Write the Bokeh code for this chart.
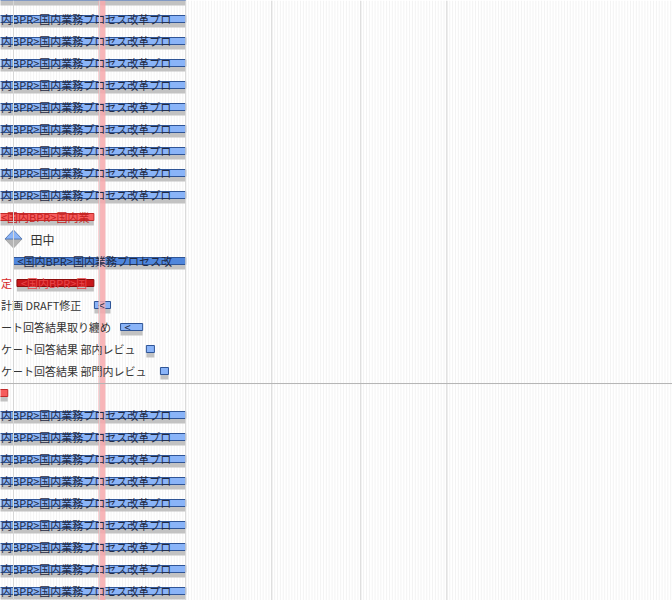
from bokeh.plotting import figure
from bokeh.models import Range1d, ColumnDataSource, Span
from bokeh.core.properties import value
from bokeh.embed import file_html
from bokeh.resources import INLINE

# ---------------- data (x in days from chart origin, y in row index) ----------------
BLUE_CAPTION = "内BPR>国内業務プロセス改革プロ"

blue_rows = [0, 1, 2, 3, 4, 5, 6, 7, 8, 9, 19, 20, 21, 22, 23, 24, 25, 26, 27]
blue_start = [-12.5] * len(blue_rows)
blue_end = [60] * len(blue_rows)
blue_text = [""] + [BLUE_CAPTION] * (len(blue_rows) - 1)

red_rows = [10, 18]
red_start = [-12.0, -12.0]
red_end = [28, -2]
red_text = ["<国内BPR>国内業", ""]

mid_rows = [12]
mid_start = [0]
mid_end = [60]
mid_text = ["<国内BPR>国内業務プロセス改"]

dark_rows = [13]
dark_start = [1.2]
dark_end = [28]
dark_text = ["<国内BPR>国"]
dark_label = ["定"]

small_rows = [14, 15, 16, 17]
small_start = [28.2, 37.3, 46.3, 51.2]
small_end = [33.8, 45.0, 49.1, 54.0]
small_text = ["<", "<", "", ""]
small_label = ["計画 DRAFT修正", "ート回答結果取り纏め", "ケート回答結果 部内レビュ", "ケート回答結果 部門内レビュ"]

milestone_rows = [11]
milestone_day = [0]
milestone_label = ["田中"]

month_lines = [0, 30, 60, 90, 121, 151]
today = [30.8]
section_break = [17.57]

# ---------------- geometry helpers ----------------
PX_DAY = 2.87
ROW_PX = 22.0
W, H = 672, 600
X0_PX = 13.0
Y0_PX = -3.5

def dx(px):
    return px / PX_DAY

def dy(px):
    return px / ROW_PX

x_start = -X0_PX / PX_DAY
x_end = (W - X0_PX) / PX_DAY
y_top = (0 - Y0_PX) / ROW_PX
y_bottom = (H - Y0_PX) / ROW_PX

FONT = value("Noto Sans CJK JP")

p = figure(width=W, height=H, x_range=Range1d(x_start, x_end),
           y_range=Range1d(y_bottom, y_top), output_backend="svg",
           toolbar_location=None, min_border=0,
           x_axis_location=None, y_axis_location=None)
p.outline_line_color = None
p.background_fill_color = "white"
p.grid.visible = False

# faint day columns
days = list(range(int(x_start) - 1, int(x_end) + 2))
p.segment(x0=days, x1=days, y0=[y_bottom] * len(days), y1=[y_top] * len(days),
          line_color="#f3f3f3", line_width=1)
# month lines
for m in month_lines:
    p.add_layout(Span(location=m, dimension="height", line_color="#d6d6d6", line_width=1))
# section separator
for s in section_break:
    p.add_layout(Span(location=s, dimension="width", line_color="#b4b4b4", line_width=1))

HALF_BAR = dy(3.5)
SH_TOP = dy(3.5)
SH_BOT = dy(8.5)
LEFT_EDGE = x_start + dx(0.5)


def draw_bars(rows, starts, ends, texts, fill, line, tcolor):
    src = ColumnDataSource(dict(
        left=starts, right=ends,
        top=[r - HALF_BAR for r in rows], bottom=[r + HALF_BAR for r in rows],
        stop=[r + SH_TOP for r in rows], sbot=[r + SH_BOT for r in rows],
        tx=[max(s + dx(4), LEFT_EDGE) for s in starts], ty=rows, text=texts))
    p.quad(left="left", right="right", top="stop", bottom="sbot", source=src,
           fill_color="#c2c2c2", line_color=None)
    p.quad(left="left", right="right", top="top", bottom="bottom", source=src,
           fill_color=fill, line_color=line, line_width=1)
    return src, tcolor


groups = [
    draw_bars(blue_rows, blue_start, blue_end, blue_text, "#8ab4f8", "#2f5597", "#1f2a44"),
    draw_bars(red_rows, red_start, red_end, red_text, "#f65c5c", "#c22a2a", "#c41e1e"),
    draw_bars(mid_rows, mid_start, mid_end, mid_text, "#4f86dc", "#2f5597", "#1f2a44"),
    draw_bars(dark_rows, dark_start, dark_end, dark_text, "#c8161a", "#8c0c0c", "#e8474a"),
    draw_bars(small_rows, small_start, small_end, small_text, "#8ab4f8", "#2f5597", "#1f2a44"),
]

# milestone diamond (top half blue, lower half grey)
hw, hh = dx(8.5), dy(9)
p.patches(xs=[[d - hw, d, d + hw] for d in milestone_day],
          ys=[[r, r + hh, r] for r in milestone_rows],
          fill_color="#b4b4b4", line_color="#a8a8a8", line_width=1)
p.patches(xs=[[d - hw, d, d + hw] for d in milestone_day],
          ys=[[r, r - hh, r] for r in milestone_rows],
          fill_color="#8ab4f8", line_color="#5b7fb8", line_width=1)

# today marker (over bars, under text)
p.quad(left=[t - dx(3.5) for t in today], right=[t + dx(3.5) for t in today],
       top=[y_top], bottom=[y_bottom], fill_color="#f7a9ad", fill_alpha=0.85, line_color=None)

# texts on bars
for src, tcolor in groups:
    p.text(x="tx", y="ty", text="text", source=src, text_font=FONT,
           text_font_size="11px", text_baseline="middle", text_align="left",
           text_color=tcolor)

# labels to the left of bars (task names, clipped by the chart's left edge)
p.text(x=[LEFT_EDGE for s in small_start], y=small_rows, text=small_label,
       text_font=FONT, text_font_size="11px", text_baseline="middle",
       text_align="left", text_color="#333333")
p.text(x=[LEFT_EDGE for s in dark_start], y=dark_rows, text=dark_label,
       text_font=FONT, text_font_size="11px", text_baseline="middle",
       text_align="left", text_color="#d62828")
# milestone label
p.text(x=[d + dx(17) for d in milestone_day], y=milestone_rows, text=milestone_label,
       text_font=FONT, text_font_size="12px", text_baseline="middle",
       text_align="left", text_color="#333333")

open("out.html", "w").write(file_html(p, INLINE))
